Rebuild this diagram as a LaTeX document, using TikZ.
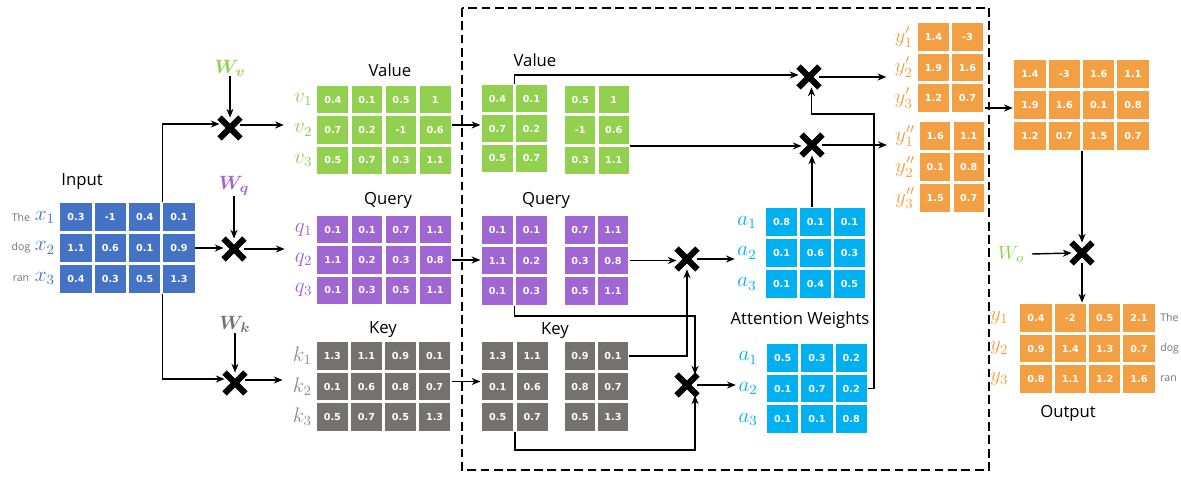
\documentclass[tikz,border=0pt]{standalone}
\usepackage{fontspec}
\setmainfont{Open Sans}
\newfontfamily\dejavub{DejaVu Sans}
\usepackage{bm}
\usetikzlibrary{arrows.meta,shapes.misc,calc,positioning,matrix}
\definecolor{cblue}{HTML}{4472C4}
\definecolor{cgreen}{HTML}{92D050}
\definecolor{cpurple}{HTML}{A066D3}
\definecolor{cgray}{HTML}{767171}
\definecolor{clgray}{HTML}{8C8C8C}
\definecolor{ccyan}{HTML}{00B0F0}
\definecolor{corange}{HTML}{F2A043}
\tikzset{
 cell/.style={draw=white, line width=0.9pt, text=white, font=\dejavub\bfseries\fontsize{5.5}{6}\selectfont, inner sep=0pt, outer sep=0pt, anchor=center, minimum width=0.65cm, minimum height=0.58cm},
 mat/.style={matrix of nodes, ampersand replacement=\&, column sep=0pt, row sep=0pt, inner sep=0pt, outer sep=0pt},
 arr/.style={-{Stealth[length=5pt,width=4pt]}, line width=0.8pt},
 ln/.style={line width=0.8pt},
 title/.style={font=\fontsize{9.5}{11}\selectfont, inner sep=0pt},
 rl/.style={font=\fontsize{12}{14}\selectfont, inner sep=0.5pt},
 word/.style={font=\fontsize{6}{7}\selectfont, text=black!55, inner sep=0pt},
 mult/.style={draw=black, cross out, line width=3.6pt, minimum size=0.29cm, inner sep=0pt},
 wl/.style={font=\fontsize{11}{13}\selectfont, inner sep=0pt},
}
\begin{document}
\begin{tikzpicture}[x=0.02cm,y=-0.02cm]
\useasboundingbox (0,0) rectangle (1181,477);
% dashed box
\draw[line width=1.4pt, dash pattern=on 5pt off 2.6pt] (462,8) rectangle (989,470);

% Input
\matrix[mat, nodes={cell, fill=cblue, minimum width=0.655cm, minimum height=0.586cm}] (X) at (127.5,248) {0.3 \& -1 \& 0.4 \& 0.1\\ 1.1 \& 0.6 \& 0.1 \& 0.9\\ 0.4 \& 0.3 \& 0.5 \& 1.3\\};
\node[title] (tin) at (82,182) {Input};
\foreach \i in {1,2,3} {\node[rl, text=cblue, left=0.07cm of X-\i-1] (xl\i) {$x_\i$};}
\node[word] (w1) at (21,0 |- X-1-1) {The};
\node[word] (w2) at (21,0 |- X-2-1) {dog};
\node[word] (w3) at (21,0 |- X-3-1) {ran};

% weights and multiplications
\node[wl, text=cgreen] (Wv) at (230,68) {$\bm{W_v}$};
\node[wl, text=cpurple] (Wq) at (234,186) {$\bm{W_q}$};
\node[wl, text=cgray] (Wk) at (235,324) {$\bm{W_k}$};
\node[mult] (Wvx) at (230,128) {};
\node[mult] (Wqx) at (234,249) {};
\node[mult] (Wkx) at (235,383) {};

% V Q K
\matrix[mat, nodes={cell, fill=cgreen, minimum height=0.574cm}] (V) at (384,130) {0.4 \& 0.1 \& 0.5 \& 1\\ 0.7 \& 0.2 \& -1 \& 0.6\\ 0.5 \& 0.7 \& 0.3 \& 1.1\\};
\matrix[mat, nodes={cell, fill=cpurple, minimum height=0.574cm}] (Q) at (384,260) {0.1 \& 0.1 \& 0.7 \& 1.1\\ 1.1 \& 0.2 \& 0.3 \& 0.8\\ 0.1 \& 0.3 \& 0.5 \& 1.1\\};
\matrix[mat, nodes={cell, fill=cgray}] (K) at (383.5,386.5) {1.3 \& 1.1 \& 0.9 \& 0.1\\ 0.1 \& 0.6 \& 0.8 \& 0.7\\ 0.5 \& 0.7 \& 0.5 \& 1.3\\};
\node[title] (tv) at (390,70) {Value};
\node[title] (tq) at (388,200) {Query};
\node[title] (tk) at (383,330) {Key};
\foreach \i in {1,2,3} {
 \node[rl, text=cgreen, left=0.06cm of V-\i-1] (vl\i) {$v_\i$};
 \node[rl, text=cpurple, left=0.06cm of Q-\i-1] (ql\i) {$q_\i$};
 \node[rl, text=clgray, left=0.06cm of K-\i-1] (kl\i) {$k_\i$};
}

% split heads
\matrix[mat, nodes={cell, fill=cgreen, minimum height=0.567cm}] (V1) at (514.5,128.5) {0.4 \& 0.1\\ 0.7 \& 0.2\\ 0.5 \& 0.7\\};
\matrix[mat, nodes={cell, fill=cgreen, minimum width=0.64cm, minimum height=0.574cm}] (V2) at (597,130) {0.5 \& 1\\ -1 \& 0.6\\ 0.3 \& 1.1\\};
\matrix[mat, nodes={cell, fill=cpurple}] (Q1) at (514.5,260.5) {0.1 \& 0.1\\ 1.1 \& 0.2\\ 0.1 \& 0.3\\};
\matrix[mat, nodes={cell, fill=cpurple, minimum width=0.63cm}] (Q2) at (596.5,260.5) {0.7 \& 1.1\\ 0.3 \& 0.8\\ 0.5 \& 1.1\\};
\matrix[mat, nodes={cell, fill=cgray, minimum width=0.66cm}] (K1) at (515,386.5) {1.3 \& 1.1\\ 0.1 \& 0.6\\ 0.5 \& 0.7\\};
\matrix[mat, nodes={cell, fill=cgray, minimum width=0.63cm}] (K2) at (596.5,386.5) {0.9 \& 0.1\\ 0.8 \& 0.7\\ 0.5 \& 1.3\\};
\node[title] (tv2) at (535,60) {Value};
\node[title] (tq2) at (546,200) {Query};
\node[title] (tk2) at (555,331) {Key};

% attention
\node[mult] (Ax1) at (687,259) {};
\node[mult] (Ax2) at (687,385) {};
\matrix[mat, nodes={cell, fill=ccyan, minimum width=0.647cm, minimum height=0.587cm}] (A1) at (815.5,253) {0.8 \& 0.1 \& 0.1\\ 0.1 \& 0.6 \& 0.3\\ 0.1 \& 0.4 \& 0.5\\};
\matrix[mat, nodes={cell, fill=ccyan, minimum width=0.653cm}] (A2) at (817,388.5) {0.5 \& 0.3 \& 0.2\\ 0.1 \& 0.7 \& 0.2\\ 0.1 \& 0.1 \& 0.8\\};
\node[title] (ta) at (800,320) {Attention Weights};
\foreach \i in {1,2,3} {
 \node[rl, text=ccyan, left=0.15cm of A1-\i-1] (al1\i) {$a_\i$};
 \node[rl, text=ccyan, left=0.15cm of A2-\i-1] (al2\i) {$a_\i$};
}

% value multiplication
\node[mult] (Vx1) at (809,77) {};
\node[mult] (Vx2) at (812,145) {};
\matrix[mat, nodes={cell, fill=corange}] (Y1) at (950.5,67.5) {1.4 \& -3\\ 1.9 \& 1.6\\ 1.2 \& 0.7\\};
\matrix[mat, nodes={cell, fill=corange, minimum width=0.64cm, minimum height=0.587cm}] (Y2) at (952,167) {1.6 \& 1.1\\ 0.1 \& 0.8\\ 1.5 \& 0.7\\};
\foreach \i in {1,2,3} {
 \node[rl, text=corange, left=0.06cm of Y1-\i-1] (yl1\i) {$y'_\i$};
 \node[rl, text=corange, left=0.06cm of Y2-\i-1] (yl2\i) {$y''_\i$};
}

% concat and output
\matrix[mat, nodes={cell, fill=corange, minimum width=0.655cm, minimum height=0.587cm}] (Yc) at (1081.5,105) {1.4 \& -3 \& 1.6 \& 1.1\\ 1.9 \& 1.6 \& 0.1 \& 0.8\\ 1.2 \& 0.7 \& 1.5 \& 0.7\\};
\node[wl, text=cgreen] (Wo) at (1011,254) {$W_o$};
\node[mult] (Wox) at (1082,253) {};
\matrix[mat, nodes={cell, fill=corange, minimum width=0.655cm}] (O) at (1087.5,348.5) {0.4 \& -2 \& 0.5 \& 2.1\\ 0.9 \& 1.4 \& 1.3 \& 0.7\\ 0.8 \& 1.1 \& 1.2 \& 1.6\\};
\foreach \i in {1,2,3} {\node[rl, text=corange, left=0.2cm of O-\i-1] (ol\i) {$y_\i$};}
\node[word, anchor=west] (rw1) at (1160,0 |- O-1-4) {The};
\node[word, anchor=west] (rw2) at (1160,0 |- O-2-4) {dog};
\node[word, anchor=west] (rw3) at (1160,0 |- O-3-4) {ran};
\node[title] (tout) at (1068,413) {Output};

% connectors: input to projections
\draw[arr] (X-1-4.north west) |- ([yshift=0.08cm]Wvx.west);
\draw[arr] (X-2-4.east) -- (X-2-4.east -| Wqx.west);
\draw[arr] (X-3-4.south west) |- ([yshift=0.08cm]Wkx.west);
\draw[arr] (Wv) -- (Wvx);
\draw[arr] (Wq) -- (Wqx);
\draw[arr] (Wk) -- (Wkx);
\draw[arr] ([yshift=0.06cm]Wvx.east) -- ([xshift=-0.18cm,yshift=0.06cm]Wvx.east -| vl1.west);
\draw[arr] (Wqx.east) -- ([xshift=-0.18cm]Wqx.east -| ql1.west);
\draw[arr] ([yshift=0.06cm]Wkx.east) -- ([xshift=-0.18cm,yshift=0.06cm]Wkx.east -| kl1.west);

% to split heads
\draw[arr] ([yshift=0.1cm]V.east) -- ([yshift=0.1cm]V.east -| V1.west);
\draw[arr] (Q.east) -- (Q.east -| Q1.west);
\draw[arr] ([yshift=0.1cm]K.east) -- ([yshift=0.1cm]K.east -| K1.west);

% attention scores
\draw[arr] (Q2.east) -- (Q2.east -| Ax1.west);
\draw[arr] (K2-1-2.east) -| (Ax1.south);
\coordinate (c1) at (695,316);
\coordinate (c3) at (695,450);
\draw[arr] (Q1.south) |- (c1) -- (c1 |- Ax2.north);
\draw[arr] (K1.south) |- (c3) -- (c3 |- Ax2.south);
\draw[arr] (Ax1.east) -- ([xshift=-0.03cm]Ax1.east -| al12.west);
\draw[arr] (Ax2.east) -- ([xshift=-0.03cm]Ax2.east -| al22.west);

% weighted values
\draw[arr] (V1.north) |- ([yshift=0.04cm]Vx1.west);
\draw[arr] (V2-3-2.north east) -- (V2-3-2.north east -| Vx2.west);
\draw[arr] (A1.north -| Vx2) -- (Vx2.south);
\coordinate (c2) at (874,114);
\draw[arr] (A2-2-3.east) -| (c2) -| ([xshift=0.05cm]Vx1.south);
\draw[arr] (Vx1.east) -- ([xshift=-0.14cm]Vx1.east -| yl12.west);
\draw[arr] (Vx2.east) -- ([xshift=-0.14cm]Vx2.east -| yl21.west);

% output
\draw[arr] ([yshift=-0.06cm]Yc.west -| Y1.east) -- ([yshift=-0.06cm]Yc.west);
\draw[arr] (Yc.south -| Wox) -- (Wox.north);
\draw[arr] (Wo.east) ++(0.15cm,0) -- (Wox.west);
\draw[arr] (Wox.south) -- (Wox.south |- O.north);
\end{tikzpicture}
\end{document}
